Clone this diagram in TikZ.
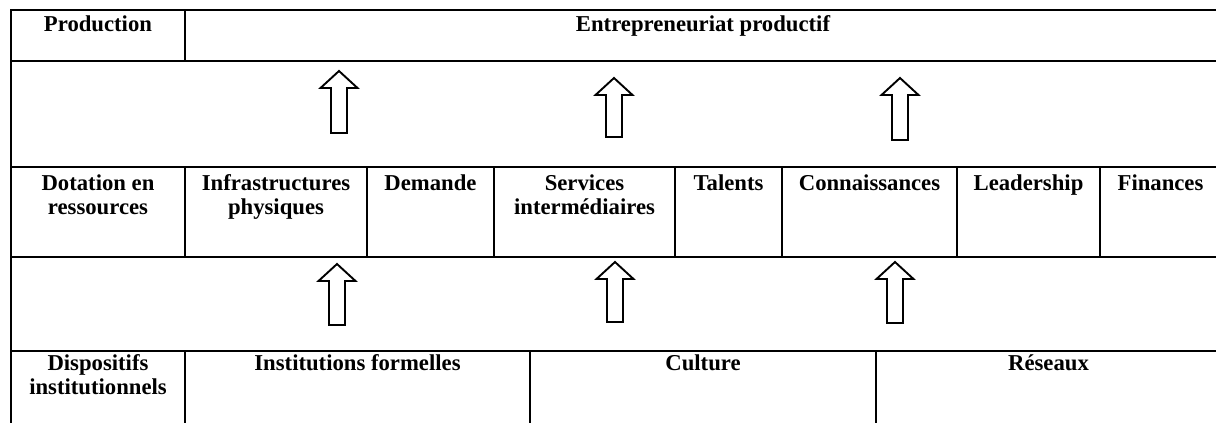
\documentclass[tikz,border=0pt]{standalone}
\usepackage{fontspec}
\setmainfont{Liberation Serif}
\usetikzlibrary{calc}
\newcommand\blockup[4]{% name, x, tip y, bottom y
  \coordinate (#1-tip) at (#2,#3);
  \coordinate (#1-foot) at (#2,#4);
  \draw[blockarrow] (#1-tip) -- ++(18.5,17) -- ++(-10.5,0) |- ($(#1-foot)+(-8,0)$)
    -- ++(0,{-(#4-#3-17)}) -- ++(-10.5,0) -- cycle;
}
\begin{document}
\begin{tikzpicture}[x=1pt,y=-1pt,
  grid/.style={line width=2.8pt, line cap=rect},
  lbl/.style={anchor=north, inner sep=0pt, align=center,
    font=\bfseries\fontsize{22.7}{24}\selectfont},
  blockarrow/.style={line width=1.9pt, line join=miter, fill=white}]
\useasboundingbox (0,0) rectangle (1216,423);
% horizontal rules
\draw[grid] (11,10) -- (1226,10);
\draw[grid] (11,61) -- (1226,61);
\draw[grid] (11,167) -- (1226,167);
\draw[grid] (11,257) -- (1226,257);
\draw[grid] (11,351) -- (1226,351);
% outer left and right borders
\draw[grid] (11,10) -- (11,430);
\draw[grid] (1221,10) -- (1221,430);
% row 1 divider
\draw[grid] (185,10) -- (185,61);
% row 3 dividers
\foreach \xx in {185,367,494,675,782,957,1100}
  \draw[grid] (\xx,167) -- (\xx,257);
% row 5 dividers
\foreach \xx in {185,530,876}
  \draw[grid] (\xx,351) -- (\xx,430);
% row 1 labels
\node[lbl] (prod) at (98,14.2) {\strut Production};
\node[lbl] (entr) at (703,14.2) {\strut Entrepreneuriat productif};
% row 3 labels
\node[lbl] (dot) at (98,173.2) {\strut Dotation en\\ressources};
\node[lbl] (infra) at (276,173.2) {\strut Infrastructures\\physiques};
\node[lbl] (dem) at (430.5,173.2) {\strut Demande};
\node[lbl] (serv) at (584.5,173.2) {\strut Services\\intermédiaires};
\node[lbl] (tal) at (728.5,173.2) {\strut Talents};
\node[lbl] (conn) at (869.5,173.2) {\strut Connaissances};
\node[lbl] (lead) at (1028.5,173.2) {\strut Leadership};
\node[lbl] (fin) at (1160.5,173.2) {\strut Finances};
% row 5 labels
\node[lbl] (disp) at (98,353.2) {\strut Dispositifs\\institutionnels};
\node[lbl] (inst) at (357.5,353.2) {\strut Institutions formelles};
\node[lbl] (cult) at (703,353.2) {\strut Culture};
\node[lbl] (res) at (1048.5,353.2) {\strut Réseaux};
% upper block arrows
\blockup{ua1}{339}{71}{133}
\blockup{ua2}{614}{78}{137}
\blockup{ua3}{900}{78}{140}
% lower block arrows
\blockup{la1}{337}{264}{325}
\blockup{la2}{615}{262}{322}
\blockup{la3}{895}{262}{323}
\end{tikzpicture}
\end{document}
